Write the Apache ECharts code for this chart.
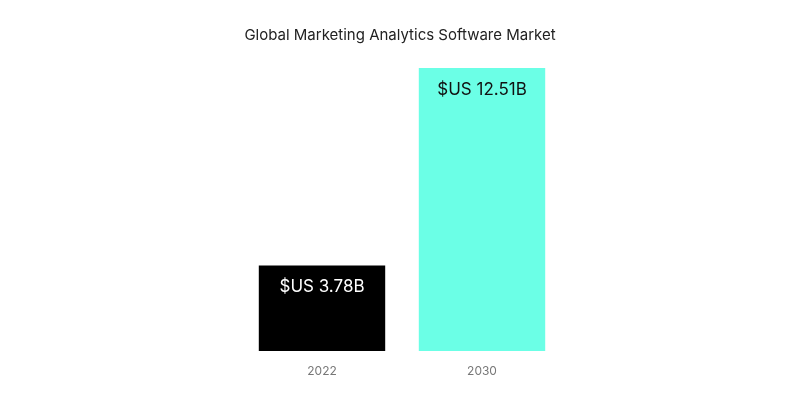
<!DOCTYPE html>
<html>
<head>
<meta charset="utf-8">
<script src="https://cdn.jsdelivr.net/npm/echarts@6/dist/echarts.min.js"></script>
<style>
  html, body { margin: 0; padding: 0; background: #fff; }
  #main { width: 800px; height: 400px; }
</style>
</head>
<body>
<div id="main"></div>
<script>
var years = ['2022', '2030'];
var marketSize = [3.78, 12.51];
var barColors = ['#000000', '#6bffe6'];
var labelColors = ['#ffffff', '#111111'];

var chart = echarts.init(document.getElementById('main'));

var option = {
  animation: false,
  textStyle: { fontFamily: 'Inter, "Noto Sans", sans-serif' },
  title: {
    text: 'Global Marketing Analytics Software Market',
    left: 'center',
    top: 23,
    textStyle: { fontSize: 15, fontWeight: 'normal', color: '#222' }
  },
  grid: { left: 242, right: 238, top: 68, bottom: 49 },
  xAxis: {
    type: 'category',
    data: years,
    axisLine: { show: false },
    axisTick: { show: false },
    axisLabel: { color: '#777', fontSize: 12, margin: 14 }
  },
  yAxis: {
    type: 'value',
    min: 0,
    max: 12.51,
    show: false,
    splitLine: { show: false }
  },
  series: [{
    type: 'bar',
    barCategoryGap: '21%',
    data: marketSize.map(function (v, i) {
      return {
        value: v,
        itemStyle: { color: barColors[i] },
        label: { color: labelColors[i] }
      };
    }),
    label: {
      show: true,
      position: 'insideTop',
      distance: 13,
      fontSize: 17,
      formatter: function (p) { return '$US ' + p.value.toFixed(2) + 'B'; }
    }
  }]
};

chart.setOption(option);
</script>
</body>
</html>
